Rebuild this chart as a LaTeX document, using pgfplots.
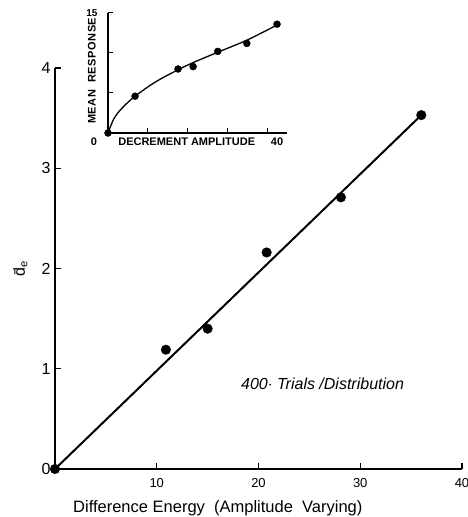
\documentclass[border=0pt]{standalone}
\usepackage{fontspec}
\setmainfont{Liberation Sans}
\usepackage{pgfplots}
\pgfplotsset{compat=1.18}

% main experiment: d' against difference energy
\pgfplotstableread{
x     y
0     0
10.9  1.19
15.0  1.40
20.8  2.16
28.1  2.71
36.0  3.53
}\maindata

% inset: mean response against decrement amplitude
\pgfplotstableread{
x     y
0     0
6.8   4.6
17.6  8.0
21.4  8.3
27.6  10.2
34.9  11.2
42.5  13.6
}\insetdata

% fitted curve traced through the inset
\pgfplotstableread{
x     y
0     0
1.5   1.8
3.5   3.1
6.8   4.6
12.0  6.4
17.6  7.9
21.4  8.8
27.6  10.1
34.9  11.6
42.5  13.5
}\insetfit

\begin{document}
\begin{tikzpicture}
\useasboundingbox (-55pt,-48pt) rectangle (412pt,469pt);

\begin{axis}[
  at={(0pt,0pt)}, anchor=south west,
  scale only axis, width=407pt, height=401pt,
  xmin=0, xmax=40, ymin=0, ymax=4,
  axis lines*=left,
  axis line style={line width=1.3pt},
  tick align=inside,
  major tick length=6pt,
  tick style={line width=1.1pt, black},
  /pgf/number format/assume math mode=true,
  xtick={10,20,30,40},
  ytick={0,1,2,3,4},
  xticklabel style={font=\fontsize{13}{13}\selectfont, yshift=-6pt},
  yticklabel style={font=\fontsize{16}{16}\selectfont, xshift=-1pt},
  xlabel={Difference\ Energy\ \ (Amplitude\ \ Varying)},
  xlabel style={font=\fontsize{16.5}{16.5}\selectfont, at={(axis description cs:0.40,-0.097)}, anchor=center},
  ylabel={\=d\textsubscript{e}},
  ylabel style={font=\fontsize{16}{16}\selectfont, at={(axis description cs:-0.085,0.5)}, anchor=center},
  clip=false,
]
\addplot[black, line width=2pt] coordinates {(0,0) (36.0,3.53)};
\addplot[only marks, mark=*, mark size=4.8pt, mark options={fill=black, draw=black}] table {\maindata};
\node[font=\itshape\fontsize{16}{16}\selectfont] at (axis cs:26.3,0.85) {400$\cdot$\ Trials\ /Distribution};
\end{axis}

\begin{axis}[
  at={(53pt,336pt)}, anchor=south west,
  scale only axis, width=179pt, height=120pt,
  xmin=0, xmax=45, ymin=0, ymax=15,
  axis lines*=left,
  axis line style={line width=1.2pt},
  tick align=inside,
  major tick length=5pt,
  tick style={line width=1pt, black},
  /pgf/number format/assume math mode=true,
  xtick={10,20,30,40}, xticklabels={},
  ytick={5,10,15}, yticklabels={,,15},
  yticklabel style={font=\bfseries\fontsize{10}{10}\selectfont, xshift=-7pt},
  ylabel={\addfontfeatures{LetterSpace=5}\textbf{MEAN\ \ RESPONSE}},
  ylabel style={font=\fontsize{11}{11}\selectfont, at={(axis description cs:-0.09,0.52)}, anchor=center},
  clip=false,
]
\addplot[black, line width=1.3pt, smooth] table {\insetfit};
\addplot[only marks, mark=*, mark size=3.5pt, mark options={fill=black, draw=black}] table {\insetdata};
\node[font=\bfseries\fontsize{11}{11}\selectfont] at (axis cs:19.8,0) [yshift=-9pt] {DECREMENT\ AMPLITUDE};
\node[font=\bfseries\fontsize{11}{11}\selectfont] at (axis cs:0,0) [xshift=-14pt, yshift=-9pt] {0};
\node[font=\bfseries\fontsize{11}{11}\selectfont] at (axis cs:42.5,0) [yshift=-9pt] {40};
\end{axis}
\end{tikzpicture}
\end{document}
